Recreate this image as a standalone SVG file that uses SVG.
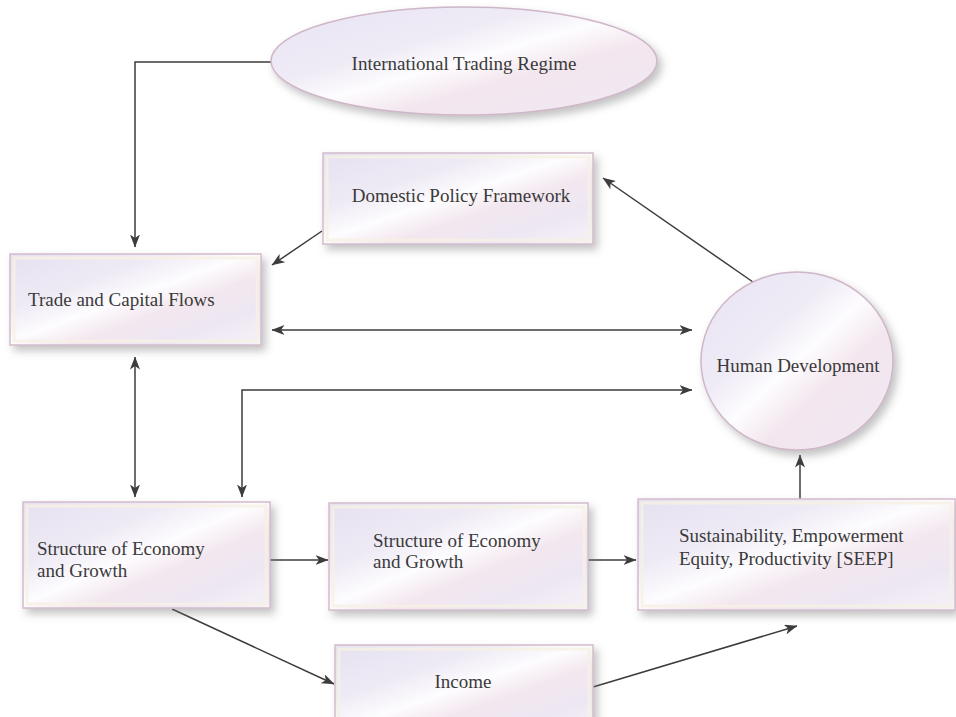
<svg xmlns="http://www.w3.org/2000/svg" width="956" height="717" viewBox="0 0 956 717">
<defs>
  <linearGradient id="gBox" x1="0" y1="0" x2="1" y2="1">
    <stop offset="0" stop-color="#e6e1f0"/>
    <stop offset="0.3" stop-color="#eeeaf5"/>
    <stop offset="0.48" stop-color="#fdfcfe"/>
    <stop offset="0.62" stop-color="#f3e7ef"/>
    <stop offset="0.8" stop-color="#ede7f3"/>
    <stop offset="1" stop-color="#f6f2f8"/>
  </linearGradient>
  <linearGradient id="gOval" x1="0" y1="0" x2="1" y2="1">
    <stop offset="0" stop-color="#e8e3f2"/>
    <stop offset="0.35" stop-color="#efebf6"/>
    <stop offset="0.5" stop-color="#fdfcfe"/>
    <stop offset="0.65" stop-color="#f3e6ee"/>
    <stop offset="1" stop-color="#efe9f4"/>
  </linearGradient>
  <filter id="shadow" x="-10%" y="-10%" width="125%" height="130%">
    <feDropShadow dx="4" dy="5" stdDeviation="4" flood-color="#777" flood-opacity="0.45"/>
  </filter>
  <marker id="arr" viewBox="0 0 13 10" refX="12.5" refY="5" markerWidth="13" markerHeight="10" markerUnits="userSpaceOnUse" orient="auto-start-reverse">
    <path d="M0,0 L13,5 L0,10 L3.5,5 Z" fill="#3c3c3c"/>
  </marker>
  <style>
    .box { fill: url(#gBox); stroke: #d4bccd; stroke-width: 1.5; filter: url(#shadow); }
    .inner { fill: none; stroke: #f6f1e4; stroke-width: 3; opacity: 0.8; }
    .oval { fill: url(#gOval); stroke: #cfb6c8; stroke-width: 1.5; filter: url(#shadow); }
    .lbl { font-family: "Liberation Serif", "Times New Roman", serif; font-size: 19px; fill: #3a3a3a; }
    .mid { text-anchor: middle; }
    .con { fill: none; stroke: #3c3c3c; stroke-width: 1.5; }
  </style>
</defs>
<rect width="956" height="717" fill="#ffffff"/>

<g id="connectors">
  <path class="con" d="M271,62 H135 V247" marker-end="url(#arr)"/>
  <path class="con" d="M322,231 L272,265" marker-end="url(#arr)"/>
  <path class="con" d="M272,330 H692" marker-start="url(#arr)" marker-end="url(#arr)"/>
  <path class="con" d="M135,357 V497" marker-start="url(#arr)" marker-end="url(#arr)"/>
  <path class="con" d="M242,497 V390 H692" marker-start="url(#arr)" marker-end="url(#arr)"/>
  <path class="con" d="M753,282 L603,178" marker-end="url(#arr)"/>
  <path class="con" d="M270,560 H328" marker-end="url(#arr)"/>
  <path class="con" d="M588,560 H636" marker-end="url(#arr)"/>
  <path class="con" d="M800,499 V455" marker-end="url(#arr)"/>
  <path class="con" d="M172,609 L334,684" marker-end="url(#arr)"/>
  <path class="con" d="M593,687 L797,626" marker-end="url(#arr)"/>
</g>

<g id="international-trading-regime">
  <ellipse class="oval" cx="464" cy="61" rx="193" ry="54"/>
  <text class="lbl mid" x="464" y="70">International Trading Regime</text>
</g>

<g id="domestic-policy-framework">
  <rect class="box" x="323" y="153" width="270" height="91"/>
  <rect class="inner" x="327" y="157" width="262" height="83"/>
  <text class="lbl mid" x="461" y="202">Domestic Policy Framework</text>
</g>

<g id="trade-and-capital-flows">
  <rect class="box" x="10" y="254" width="251" height="91"/>
  <rect class="inner" x="14" y="258" width="243" height="83"/>
  <text class="lbl" x="28" y="306">Trade and Capital Flows</text>
</g>

<g id="human-development">
  <ellipse class="oval" cx="797" cy="361" rx="96" ry="89"/>
  <text class="lbl mid" x="798" y="372">Human Development</text>
</g>

<g id="structure-1">
  <rect class="box" x="23" y="502" width="247" height="106"/>
  <rect class="inner" x="27" y="506" width="239" height="98"/>
  <text class="lbl" x="37" y="555">Structure of Economy</text>
  <text class="lbl" x="37" y="577">and Growth</text>
</g>

<g id="structure-2">
  <rect class="box" x="329" y="503" width="259" height="107"/>
  <rect class="inner" x="333" y="507" width="251" height="99"/>
  <text class="lbl" x="373" y="547">Structure of Economy</text>
  <text class="lbl" x="373" y="568">and Growth</text>
</g>

<g id="seep">
  <rect class="box" x="638" y="499" width="317" height="111"/>
  <rect class="inner" x="642" y="503" width="309" height="103"/>
  <text class="lbl" x="679" y="542">Sustainability, Empowerment</text>
  <text class="lbl" x="679" y="565">Equity, Productivity [SEEP]</text>
</g>

<g id="income">
  <rect class="box" x="335" y="645" width="258" height="90"/>
  <rect class="inner" x="339" y="649" width="250" height="82"/>
  <text class="lbl mid" x="463" y="688">Income</text>
</g>
</svg>
